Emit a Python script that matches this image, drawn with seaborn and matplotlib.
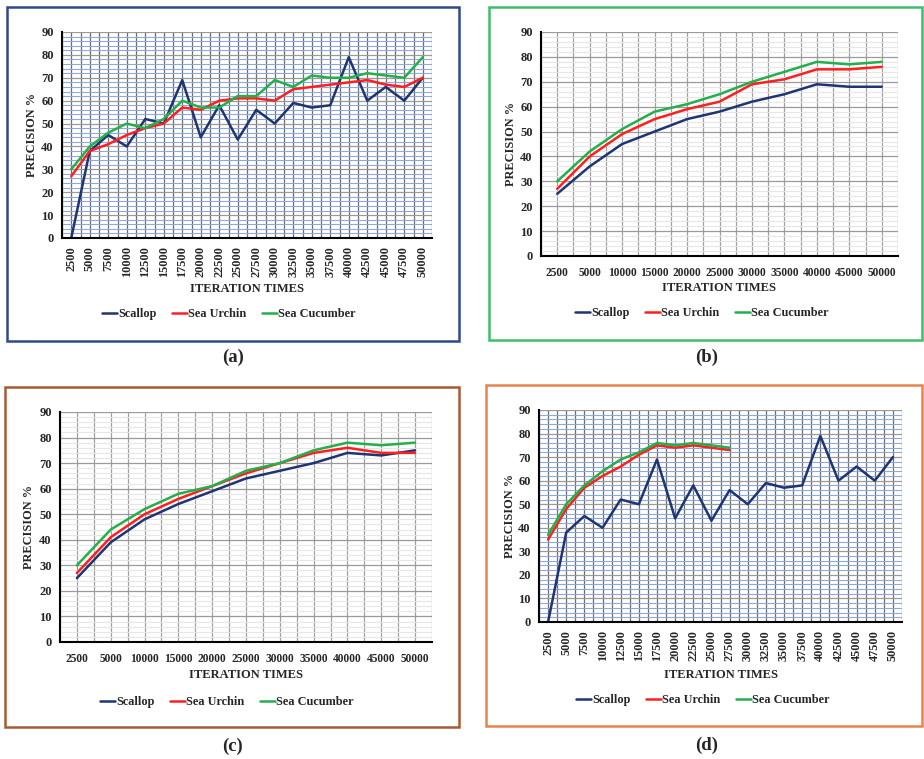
import matplotlib
matplotlib.use("Agg")
import matplotlib.pyplot as plt
from matplotlib.patches import Rectangle
from matplotlib.ticker import MultipleLocator, FixedLocator
import pandas as pd
import seaborn as sns

sns.set_theme(style="white")
plt.rcParams["font.family"] = ["Liberation Serif", "DejaVu Serif"]
plt.rcParams["font.weight"] = "bold"

# ---- data -------------------------------------------------------------
iters_fine = ["2500", "5000", "7500", "10000", "12500", "15000", "17500",
              "20000", "22500", "25000", "27500", "30000", "32500", "35000",
              "37500", "40000", "42500", "45000", "47500", "50000"]
iters_coarse = ["2500", "5000", "10000", "15000", "20000", "25000",
                "30000", "35000", "40000", "45000", "50000"]

a_scallop = [0, 38, 45, 40, 52, 50, 69, 44, 58, 43, 56, 50, 59, 57, 58, 79, 60, 66, 60, 70]
a_urchin = [27, 38, 41, 45, 48, 50, 57, 56, 60, 61, 61, 60, 65, 66, 67, 68, 69, 67, 66, 70]
a_cucumber = [30, 40, 46, 50, 48, 52, 60, 57, 57, 62, 62, 69, 66, 71, 70, 70, 72, 71, 70, 79]

b_scallop = [25, 36, 45, 50, 55, 58, 62, 65, 69, 68, 68]
b_urchin = [27, 40, 49, 55, 59, 62, 69, 71, 75, 75, 76]
b_cucumber = [30, 42, 51, 58, 61, 65, 70, 74, 78, 77, 78]

c_scallop = [25, 39, 48, 54, 59, 64, 67, 70, 74, 73, 75]
c_urchin = [27, 41, 50, 56, 61, 66, 70, 74, 76, 74, 74]
c_cucumber = [30, 44, 52, 58, 61, 67, 70, 75, 78, 77, 78]

d_scallop = [0, 38, 45, 40, 52, 50, 69, 44, 58, 43, 56, 50, 59, 57, 58, 79, 60, 66, 60, 70]
d_urchin = [35, 48, 57, 62, 66, 71, 75, 74, 75, 74, 73]
d_cucumber = [37, 50, 58, 64, 69, 72, 76, 75, 76, 75, 74]

species = ["Scallop", "Sea Urchin", "Sea Cucumber"]
palette = {"Scallop": "#1F3573", "Sea Urchin": "#FF1F1F", "Sea Cucumber": "#22B04B"}

W, H = 924, 759
fig = plt.figure(figsize=(W / 100, H / 100), dpi=100)


def fx(px):
    return px / W


def fy(py):
    return 1 - py / H


def long_frame(series):
    rows = []
    for name, vals in zip(species, series):
        for i, v in enumerate(vals):
            rows.append({"pos": i, "precision": v, "species": name})
    return pd.DataFrame(rows)


def panel(rect, cats, series, minor_color, vcolor, rotate, xlab_y, ylab_x,
          leg_xy, border, border_color, tag, tag_xy):
    left, top, right, bottom = rect
    ax = fig.add_axes([fx(left), fy(bottom), fx(right) - fx(left), (bottom - top) / H])
    df = long_frame(series)
    sns.lineplot(data=df, x="pos", y="precision", hue="species",
                 hue_order=species, palette=palette, linewidth=1.8,
                 ax=ax, legend=True, sort=False)

    n = len(cats)
    ax.set_xlim(-0.5, n - 0.5)
    ax.set_ylim(0, 90)
    ax.xaxis.set_major_locator(FixedLocator(range(n)))
    ax.set_xticklabels(cats, rotation=90 if rotate else 0)
    ax.xaxis.set_minor_locator(MultipleLocator(0.5))
    ax.yaxis.set_major_locator(MultipleLocator(10))
    ax.yaxis.set_minor_locator(MultipleLocator(2))
    ax.set_axisbelow(True)
    ax.grid(which="both", axis="x", color=vcolor, linewidth=0.9)
    ax.grid(which="major", axis="y", color="#9A9A9A", linewidth=0.9)
    ax.grid(which="minor", axis="y", color=minor_color, linewidth=0.8)
    ax.tick_params(which="both", length=0)
    ax.tick_params(axis="y", pad=6, labelsize=9)
    ax.tick_params(axis="x", pad=6 if rotate else 8, labelsize=8.8 if rotate else 8.3)
    for t in ax.get_xticklabels() + ax.get_yticklabels():
        t.set_fontweight("bold")
    for s in ("top", "right"):
        ax.spines[s].set_visible(False)
    for s in ("left", "bottom"):
        ax.spines[s].set_color("black")
        ax.spines[s].set_linewidth(1.5)

    ax.set_xlabel("")
    ax.set_ylabel("")
    fig.text(fx((left + right) / 2), fy(xlab_y), "ITERATION TIMES",
             ha="center", va="center", fontsize=9, fontweight="bold")
    fig.text(fx(ylab_x), fy((top + bottom) / 2), "PRECISION %",
             ha="center", va="center", rotation=90, fontsize=8.8, fontweight="bold")

    sns.move_legend(ax, "center", bbox_to_anchor=(fx(leg_xy[0]), fy(leg_xy[1])),
                    bbox_transform=fig.transFigure, ncol=3, frameon=False,
                    title=None, fontsize=8.8, handlelength=1.2,
                    handletextpad=0.1, columnspacing=1.3)
    for t in ax.get_legend().get_texts():
        t.set_fontweight("bold")

    bx0, by0, bx1, by1 = border
    fig.patches.append(Rectangle((fx(bx0), fy(by1)), fx(bx1) - fx(bx0),
                                 (by1 - by0) / H, transform=fig.transFigure,
                                 fill=False, edgecolor=border_color, linewidth=1.8))
    fig.text(fx(tag_xy[0]), fy(tag_xy[1]), tag, ha="center", va="center",
             fontsize=13.5, fontweight="bold")
    return ax


panel((62, 32, 432, 238), iters_fine, [a_scallop, a_urchin, a_cucumber],
      "#8EA9DB", "#6E6E6E", True, 289, 32, (229, 314),
      (7, 7, 459, 341), "#2E4A8B", "(a)", (233, 357))

panel((541, 32, 898, 256), iters_coarse, [b_scallop, b_urchin, b_cucumber],
      "#E6E6E6", "#A0A0A0", False, 288, 511, (702, 313),
      (489, 7, 922, 340), "#3DBE6B", "(b)", (707, 357))

panel((60, 412, 432, 642), iters_coarse, [c_scallop, c_urchin, c_cucumber],
      "#E6E6E6", "#A0A0A0", False, 675, 29, (227, 702),
      (5, 387, 459, 727), "#A65A33", "(c)", (233, 746))

panel((539, 410, 902, 622), iters_fine, [d_scallop, d_urchin, d_cucumber],
      "#8EA9DB", "#6E6E6E", True, 675, 510, (703, 700),
      (486, 385, 922, 726), "#E8834A", "(d)", (707, 745))

fig.savefig("out.png", dpi=100)
